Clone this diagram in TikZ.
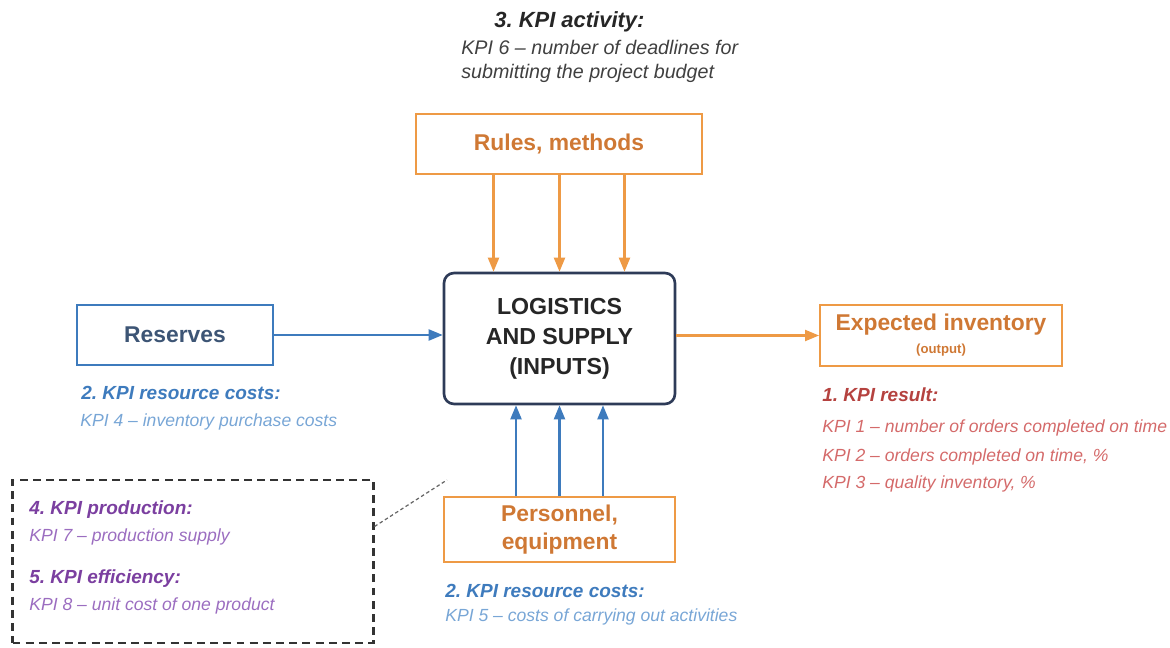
\documentclass[tikz,border=0pt]{standalone}
\usepackage{fontspec}
\setmainfont{Liberation Sans}
\usetikzlibrary{arrows.meta, calc}
\definecolor{kpiOrange}{HTML}{EE9A45}
\definecolor{kpiOrangeText}{HTML}{CF7834}
\definecolor{kpiBlue}{HTML}{3E7BBD}
\definecolor{kpiBlueLight}{HTML}{78A6D6}
\definecolor{kpiNavy}{HTML}{2E3B58}
\definecolor{kpiSlate}{HTML}{3D5575}
\definecolor{kpiRed}{HTML}{B5423F}
\definecolor{kpiRedLight}{HTML}{D46A6A}
\definecolor{kpiPurple}{HTML}{7B3FA0}
\definecolor{kpiPurpleLight}{HTML}{9B6DC0}
\frenchspacing

\begin{document}
\begin{tikzpicture}[x=0.02cm, y=-0.02cm,
  box/.style={draw=kpiOrange, line width=1.1pt, inner sep=0pt, align=center,
    font=\fontsize{13}{16}\selectfont\bfseries, text=kpiOrangeText},
  core/.style={draw=kpiNavy, line width=1.5pt, rounded corners=0.2cm, inner sep=0pt,
    align=center, font=\fontsize{13.2}{17}\selectfont\bfseries, text=black!85,
    minimum width=4.62cm, minimum height=2.62cm},
  kpihead/.style={anchor=base west, inner sep=0pt, font=\fontsize{10.8}{13}\selectfont\bfseries\itshape},
  kpitext/.style={anchor=base west, inner sep=0pt, font=\fontsize{10}{12}\selectfont\itshape},
  oarr/.style={-{Triangle[length=2.8mm, width=2.2mm]}, draw=kpiOrange, line width=1.2pt},
  barr/.style={-{Triangle[length=2.8mm, width=2.2mm]}, draw=kpiBlue, line width=1.2pt}
]
\useasboundingbox (0,0) rectangle (1170,648);

% boxes
\node[core] (logi) at (559.5,338.5) {LOGISTICS\\AND SUPPLY\\(INPUTS)};
\node[box, minimum width=5.72cm, minimum height=1.2cm] (rules) at (559,144) {Rules, methods};
\node[box, draw=kpiBlue, text=kpiSlate, minimum width=3.92cm, minimum height=1.2cm] (res) at (175,335) {Reserves};
\node[box, minimum width=4.84cm, minimum height=1.22cm] (inv) at (941,335.5)
  {Expected inventory\\[-3pt]{\fontsize{7.5}{8}\selectfont (output)}};
\node[box, minimum width=4.62cm, minimum height=1.3cm] (pers) at (559.5,529.5)
  {Personnel,\\equipment};

% connectors
\foreach \dx in {-1.32,0,1.3}
  \draw[oarr] ([xshift=\dx cm]logi.north |- rules.south) -- ([xshift=\dx cm]logi.north);
\foreach \dx in {-0.87,0,0.87}
  \draw[barr] ([xshift=\dx cm]logi.south |- pers.north) -- ([xshift=\dx cm]logi.south);
\draw[barr] (res.east) -- (res.east -| logi.west);
\draw[oarr] (logi.east |- inv.west) -- (inv.west);

% KPI labels
\node[kpihead, text=black!85, font=\fontsize{12.5}{15}\selectfont\bfseries\itshape] (act) at (494,28) {3. KPI activity:};
\node[kpitext, text=black!75, font=\fontsize{11.2}{13}\selectfont\itshape] (kpi6a) at (461,55) {KPI 6 -- number of deadlines for};
\node[kpitext, text=black!75, font=\fontsize{11.2}{13}\selectfont\itshape] (kpi6b) at (461,79) {submitting the project budget};

\node[kpihead, text=kpiBlue] (rc1) at (81,400) {2. KPI resource costs:};
\node[kpitext, text=kpiBlueLight] (kpi4) at (80,427) {KPI 4 -- inventory purchase costs};

\node[kpihead, text=kpiBlue] (rc2) at (445,597) {2. KPI resource costs:};
\node[kpitext, text=kpiBlueLight] (kpi5) at (445,621) {KPI 5 -- costs of carrying out activities};

\node[kpihead, text=kpiRed] (resl) at (822,402) {1. KPI result:};
\node[kpitext, text=kpiRedLight] (kpi1) at (822,433) {KPI 1 -- number of orders completed on time};
\node[kpitext, text=kpiRedLight] (kpi2) at (822,461) {KPI 2 -- orders completed on time, \%};
\node[kpitext, text=kpiRedLight] (kpi3) at (822,488) {KPI 3 -- quality inventory, \%};

% dashed group
\node[draw=black!80, line width=1.2pt, dash pattern=on 4.5pt off 3pt, minimum width=7.22cm,
  minimum height=3.26cm, inner sep=0pt] (grp) at (193,561.5) {};
\node[kpihead, text=kpiPurple] (prod) at (29,515) {4. KPI production:};
\node[kpitext, text=kpiPurpleLight] (kpi7) at (29,541) {KPI 7 -- production supply};
\node[kpihead, text=kpiPurple] (eff) at (29,583) {5. KPI efficiency:};
\node[kpitext, text=kpiPurpleLight] (kpi8) at (29,610) {KPI 8 -- unit cost of one product};

\coordinate (hint) at (447,480);
\draw[black!60, line width=0.7pt, dash pattern=on 2pt off 1.5pt] ([yshift=0.7cm]grp.east) -- (hint);
\end{tikzpicture}
\end{document}
